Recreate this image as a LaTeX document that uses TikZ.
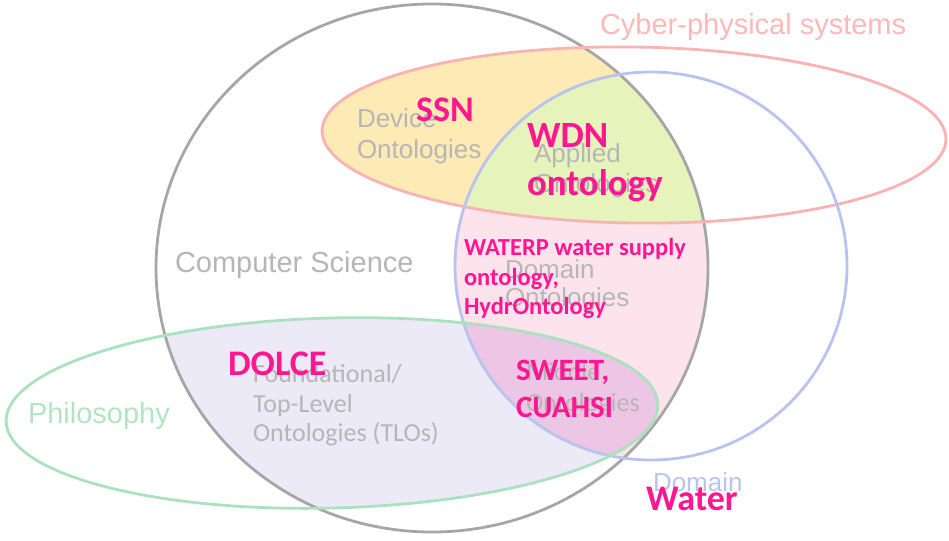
\documentclass[tikz,border=0pt]{standalone}
\usepackage{fontspec}
\newfontfamily\arialf{Liberation Sans}
\newfontfamily\calf{Carlito}
\definecolor{grayline}{RGB}{166,166,166}
\definecolor{pinkline}{RGB}{250,178,178}
\definecolor{blueline}{RGB}{186,194,240}
\definecolor{greenline}{RGB}{170,226,192}
\definecolor{yellowfill}{RGB}{253,234,181}
\definecolor{greenfill}{RGB}{230,243,186}
\definecolor{pinkfill}{RGB}{253,228,236}
\definecolor{lavfill}{RGB}{236,234,247}
\definecolor{purpfill}{RGB}{236,198,228}
\definecolor{textgray}{RGB}{182,182,182}
\definecolor{cybertext}{RGB}{255,184,184}
\definecolor{philtext}{RGB}{176,228,196}
\definecolor{domaintext}{RGB}{186,194,240}
\definecolor{hotpink}{RGB}{255,22,145}
\tikzset{
  lbl/.style={anchor=base west, inner sep=0pt, outer sep=0pt},
  arial/.style={lbl, font=\arialf\fontsize{#1}{#1}\selectfont},
  calib/.style={lbl, font=\calf\fontsize{#1}{#1}\selectfont},
  hot/.style={lbl, text=hotpink, font=\calf\bfseries\fontsize{#1}{#1}\selectfont},
  ring/.style={line width=2.8pt}
}
\begin{document}
\begin{tikzpicture}[x=1pt,y=-1pt]
\useasboundingbox (0,0) rectangle (949,540);
% fills
\begin{scope}
  \clip (432,268) ellipse [x radius=276pt, y radius=264pt];
  \fill[yellowfill, rotate around={-0.8:(634,135)}] (634,135) ellipse [x radius=312pt, y radius=88pt];
  \fill[pinkfill] (651,266) ellipse [x radius=196pt, y radius=194pt];
  \fill[lavfill, rotate around={1.5:(332,413)}] (332,413) ellipse [x radius=326pt, y radius=95pt];
  \begin{scope}
    \clip[rotate around={-0.8:(634,135)}] (634,135) ellipse [x radius=312pt, y radius=88pt];
    \fill[greenfill] (651,266) ellipse [x radius=196pt, y radius=194pt];
  \end{scope}
  \begin{scope}
    \clip[rotate around={1.5:(332,413)}] (332,413) ellipse [x radius=326pt, y radius=95pt];
    \fill[purpfill] (651,266) ellipse [x radius=196pt, y radius=194pt];
  \end{scope}
\end{scope}
% outlines
\draw[ring, grayline] (432,268) ellipse [x radius=276pt, y radius=264pt];
\draw[ring, pinkline, rotate around={-0.8:(634,135)}] (634,135) ellipse [x radius=312pt, y radius=88pt];
\draw[ring, blueline] (651,266) ellipse [x radius=196pt, y radius=194pt];
\draw[ring, greenline, rotate around={1.5:(332,413)}] (332,413) ellipse [x radius=326pt, y radius=95pt];
% set labels
\node[arial=29, text=cybertext] (cps) at (600,35) {Cyber-physical systems};
\node[arial=29, text=textgray] (cs) at (175,272) {Computer Science};
\node[arial=29, text=philtext] (phil) at (28,423) {Philosophy};
\node[arial=26, text=domaintext] (dom) at (653,491) {Domain};
% region labels
\node[arial=26, text=textgray] (dev1) at (357,128) {Device};
\node[arial=26, text=textgray] (dev2) at (357,158) {Ontologies};
\node[arial=26, text=textgray] (app1) at (534,163) {Applied};
\node[arial=26, text=textgray] (app2) at (534,193) {Ontologies};
\node[arial=26, text=textgray] (do1) at (505,278) {Domain};
\node[arial=26, text=textgray] (do2) at (505,306) {Ontologies};
\node[calib=26, text=textgray] (tlo1) at (253,382) {Foundational/};
\node[calib=26, text=textgray] (tlo2) at (253,412) {Top-Level};
\node[calib=26, text=textgray] (tlo3) at (253,441) {Ontologies (TLOs)};
\node[calib=26, text=textgray] (mid1) at (526,380) {Middle};
\node[calib=26, text=textgray] (mid2) at (526,411) {Ontologies};
% pink examples
\node[hot=36] (ssn) at (416,122) {SSN};
\node[hot=37] (wdn1) at (527,148) {WDN};
\node[hot=37] (wdn2) at (527,195) {ontology};
\node[hot=24.5] (wat1) at (464,255) {WATERP water supply};
\node[hot=24.5] (wat2) at (464,285) {ontology,};
\node[hot=24.5] (wat3) at (464,314) {HydrOntology};
\node[hot=36] (dolce) at (228,375) {DOLCE};
\node[hot=31] (sw1) at (516,380) {SWEET,};
\node[hot=31] (sw2) at (516,417) {CUAHSI};
\node[hot=36] (water) at (646,510) {Water};
\end{tikzpicture}
\end{document}
